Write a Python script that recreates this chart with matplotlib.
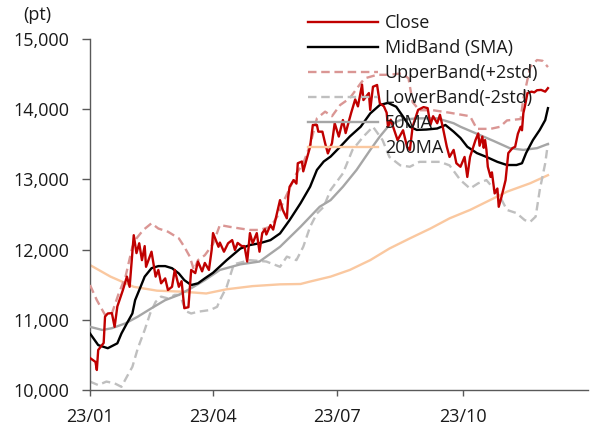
import matplotlib
matplotlib.use("Agg")
import matplotlib.pyplot as plt
import pandas as pd

plt.rcParams['font.family'] = ['Open Sans', 'DejaVu Sans']

START = pd.Timestamp('2023-01-01')

# ---- data (day offset from 2023-01-01, value in pt) ----
close_days = [0, 4, 5, 6, 10, 11, 13, 16, 18, 20, 24, 27, 29, 31, 32, 34, 36, 38, 40, 41,
              45, 48, 50, 52, 55, 57, 60, 62, 65, 67, 69, 72, 74, 77, 79, 82, 84, 87, 89, 90,
              94, 95, 98, 101, 104, 106, 108, 111, 113, 115, 117, 119, 122, 124, 126, 128, 129,
              132, 134, 137, 139, 141, 144, 145, 146, 149, 151, 152, 155, 156, 159, 161, 163,
              166, 167, 170, 172, 174, 177, 179, 182, 185, 187, 191, 194, 196, 199, 200, 204,
              205, 207, 210, 212, 215, 217, 218, 220, 225, 229, 232, 234, 236, 240, 244, 247,
              249, 251, 254, 256, 258, 261, 263, 266, 268, 271, 274, 276, 278, 282, 284, 285,
              287, 288, 289, 290, 291, 293, 294, 295, 296, 298, 299, 301, 304, 306, 309, 311,
              312, 313, 315, 316, 317, 318, 319, 320, 323, 325, 327, 330, 333, 335]
close_vals = [10456, 10400, 10285, 10570, 10670, 11045, 11090, 11095, 10900, 11190, 11420, 11615,
              11470, 11950, 12205, 11950, 12090, 11850, 12050, 11755, 11970, 11615, 11710, 11520,
              11590, 11425, 11470, 11710, 11470, 11550, 11165, 11180, 11710, 11665, 11830, 11690,
              11810, 11710, 11995, 12235, 12040, 12100, 11970, 12090, 12135, 11995, 12095, 12050,
              12050, 11830, 12235, 12090, 12235, 11970, 12235, 12290, 12215, 12350, 12285, 12540,
              12705, 12565, 12445, 12755, 12895, 12990, 12940, 13230, 13255, 13115, 13325, 13465,
              13775, 13775, 13680, 13680, 13515, 13370, 13515, 13800, 13610, 13845, 13660, 13945,
              14140, 14040, 14350, 14130, 14230, 13990, 14320, 14345, 14085, 14040, 13950, 13750,
              13850, 13560, 13700, 13460, 13420, 13750, 13990, 14030, 14015, 13775, 13900, 13800,
              13920, 13750, 13465, 13320, 13420, 13230, 13180, 13320, 13035, 13320, 13560, 13655,
              13480, 13610, 13450, 13560, 13420, 13180, 13035, 13100, 12945, 12800, 12870, 12610,
              12750, 12990, 13375, 13445, 13465, 13560, 13650, 13750, 13700, 13945, 14030, 14130,
              14230, 14250, 14240, 14270, 14275, 14250, 14300]

mid_days = [0, 6, 13, 20, 23, 27, 31, 33, 37, 40, 45, 50, 55, 60, 65, 69, 74, 79, 84, 90, 100,
            110, 117, 124, 132, 139, 146, 154, 161, 166, 171, 176, 183, 190, 198, 205, 212, 218,
            224, 229, 234, 239, 246, 254, 260, 266, 271, 276, 283, 290, 298, 305, 312, 316, 319,
            324, 329, 333, 335]
mid_vals = [10805, 10640, 10595, 10665, 10805, 10950, 11090, 11280, 11470, 11615, 11735, 11765,
            11765, 11735, 11660, 11565, 11495, 11520, 11590, 11670, 11850, 12015, 12065, 12090,
            12135, 12230, 12420, 12660, 12895, 13135, 13255, 13325, 13465, 13610, 13750, 13940,
            14060, 14090, 14035, 13895, 13750, 13705, 13710, 13725, 13775, 13680, 13590, 13465,
            13375, 13320, 13250, 13205, 13205, 13230, 13375, 13560, 13705, 13845, 14015]

upper_days = [0, 5, 11, 16, 21, 26, 31, 34, 39, 45, 50, 57, 65, 69, 73, 76, 79, 84, 90, 95, 102,
              110, 117, 124, 132, 137, 141, 146, 151, 156, 161, 166, 172, 177, 183, 190, 198, 201,
              210, 219, 228, 233, 236, 241, 251, 263, 278, 283, 293, 300, 305, 315, 317, 322, 327,
              331, 335]
upper_vals = [11495, 11280, 11070, 11090, 11375, 11615, 12040, 12160, 12280, 12375, 12300, 12255,
              12160, 12040, 11900, 11710, 11850, 11920, 12080, 12350, 12325, 12300, 12280, 12280,
              12325, 12470, 12660, 12870, 13085, 13230, 13490, 13870, 13965, 13900, 14060, 14155,
              14370, 14440, 14490, 14490, 14510, 14440, 14100, 13985, 13985, 13950, 13900, 13720,
              13720, 13750, 13840, 13860, 14150, 14600, 14700, 14690, 14600]

lower_days = [0, 6, 12, 18, 23, 27, 31, 35, 40, 44, 48, 52, 57, 62, 66, 68, 71, 74, 79, 88, 93,
              95, 100, 105, 107, 117, 129, 139, 144, 151, 156, 161, 166, 171, 176, 185, 192, 200,
              207, 214, 219, 227, 234, 241, 256, 263, 271, 278, 284, 290, 295, 300, 305, 312, 318,
              322, 326, 329, 333, 335]
lower_vals = [10120, 10070, 10120, 10095, 10045, 10190, 10330, 10595, 10855, 11090, 11255, 11330,
              11305, 11355, 11355, 11235, 11115, 11090, 11115, 11140, 11185, 11280, 11470, 11780,
              11800, 11850, 11830, 11755, 11900, 11850, 12040, 12325, 12515, 12610, 12850, 13085,
              13420, 13610, 13750, 13560, 13320, 13200, 13180, 13250, 13250, 13200, 12990, 12870,
              12945, 12990, 12875, 12750, 12565, 12520, 12420, 12395, 12470, 12850, 13230, 13515]

ma50_days = [0, 9, 16, 26, 35, 45, 55, 65, 74, 84, 95, 110, 124, 139, 154, 168, 176, 185, 195,
             205, 212, 219, 227, 239, 254, 266, 271, 283, 295, 307, 317, 327, 335]
ma50_vals = [10900, 10855, 10880, 10950, 11045, 11165, 11280, 11355, 11450, 11565, 11710, 11790,
             11830, 12040, 12325, 12610, 12705, 12895, 13135, 13420, 13610, 13775, 13845, 13870,
             13870, 13800, 13750, 13650, 13550, 13445, 13420, 13445, 13505]

ma200_days = [0, 15, 32, 49, 68, 85, 100, 119, 139, 154, 161, 176, 190, 205, 219, 234, 249, 263,
              278, 290, 305, 322, 335]
ma200_vals = [11780, 11615, 11470, 11415, 11400, 11375, 11435, 11480, 11505, 11510, 11545, 11615,
              11710, 11850, 12015, 12160, 12300, 12445, 12565, 12680, 12825, 12945, 13060]

tick_dates = ['2023-01-01', '2023-04-01', '2023-07-01', '2023-10-01']
tick_labels = ['23/01', '23/04', '23/07', '23/10']
y_ticks = [10000, 11000, 12000, 13000, 14000, 15000]


def to_dates(days):
    return START + pd.to_timedelta(days, unit='D')


FS = 13
fig = plt.figure(figsize=(5.91, 4.32), dpi=100)
ax = fig.add_axes([90 / 591, 1 - 390 / 432, (587.6 - 90) / 591, (390 - 39) / 432])

dash = (0, (3.6, 2.0))
series = [
    ('Close', close_days, close_vals, dict(color='#C00000', lw=1.7, ls='-'), 6),
    ('MidBand (SMA)', mid_days, mid_vals, dict(color='#000000', lw=1.7, ls='-'), 5),
    ('UpperBand(+2std)', upper_days, upper_vals, dict(color='#DA9694', lw=1.7, ls=dash), 3),
    ('LowerBand(-2std)', lower_days, lower_vals, dict(color='#BFBFBF', lw=1.7, ls=dash), 2),
    ('50MA', ma50_days, ma50_vals, dict(color='#A6A6A6', lw=1.7, ls='-'), 4),
    ('200MA', ma200_days, ma200_vals, dict(color='#FAC8A0', lw=1.7, ls='-'), 1),
]
handles = []
for label, d, v, style, z in series:
    h, = ax.plot(to_dates(d), v, label=label, zorder=z, **style)
    handles.append(h)

ax.set_ylim(10000, 15000)
ax.set_xlim(pd.Timestamp('2023-01-01'), pd.Timestamp('2023-12-31'))
ax.set_yticks(y_ticks)
ax.set_yticklabels([f'{t:,}' for t in y_ticks])
ax.set_xticks(pd.to_datetime(tick_dates))
ax.set_xticklabels(tick_labels)

for s in ['top', 'right']:
    ax.spines[s].set_visible(False)
for s in ['left', 'bottom']:
    ax.spines[s].set_color('#595959')
    ax.spines[s].set_linewidth(1.0)
ax.tick_params(axis='y', length=6, width=1.0, color='#595959', pad=9, labelsize=FS, labelcolor='#1a1a1a')
ax.tick_params(axis='x', length=4, width=1.0, color='#595959', pad=9, labelsize=FS, labelcolor='#1a1a1a')

fig.text(23 / 591, 1 - 15 / 432, '(pt)', fontsize=FS, va='center', ha='left', color='#1a1a1a')

leg = fig.legend(handles=handles, loc='upper left', bbox_to_anchor=(308 / 591, 1 - 14 / 432),
                 frameon=False, fontsize=FS, handlelength=3.85, handletextpad=0.4,
                 labelspacing=0.39, borderpad=0, borderaxespad=0)
for t in leg.get_texts():
    t.set_color('#1a1a1a')

fig.savefig('out.png', dpi=100)
